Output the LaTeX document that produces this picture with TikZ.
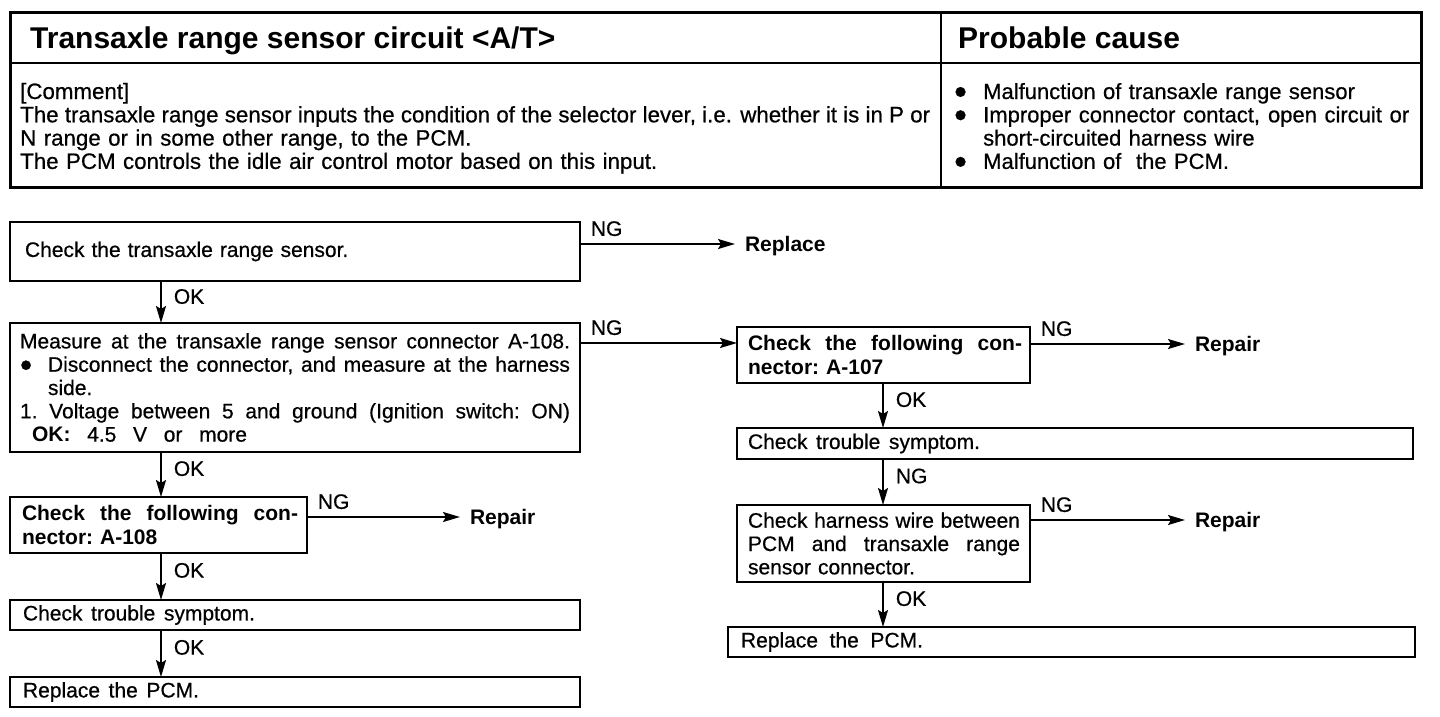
\documentclass[tikz,border=0pt]{standalone}
\usepackage{fontspec}
\setmainfont{Liberation Sans}[UprightFeatures={FakeBold=0.6}]
\usetikzlibrary{arrows.meta}

\newcommand{\bodyfont}{\fontsize{21}{23.3}\selectfont\frenchspacing}
\newcommand{\blt}{\smash{\raisebox{-5pt}{\scalebox{1.65}{\textbullet}}}}
\newcommand{\spread}[2]{\makebox[#1][s]{\spaceskip=0pt\xspaceskip=0pt #2}}

\tikzset{
  box/.style={draw, line width=2.2pt, rectangle, anchor=north west, outer sep=0pt,
    inner ysep=0pt, align=left, font=\bodyfont},
  boldbox/.style={box, font=\bfseries\bodyfont},
  flow/.style={line width=1.8pt, -{Stealth[length=17pt,width=10pt,inset=3pt]}},
  act/.style={anchor=west, outer sep=0pt, inner xsep=10pt, text height=15.5pt, text depth=0pt,
    font=\bfseries\bodyfont},
  ng/.style={pos=0, anchor=south west, xshift=8pt, yshift=5pt, inner sep=2pt, font=\bodyfont},
  ok/.style={pos=0.37, anchor=west, xshift=9pt, inner sep=3pt, font=\bodyfont},
  head/.style={anchor=base west, inner sep=0pt, font=\bfseries\fontsize{30}{32}\selectfont},
  txt/.style={anchor=base west, inner sep=0pt, align=left},
}

\begin{document}
\begin{tikzpicture}[x=1pt,y=-1pt]
  \useasboundingbox (0,0) rectangle (1440,716);

  % table
  \draw[line width=3pt] (10,12) rectangle (1421,187);
  \draw[line width=2pt] (10,63) -- (1421,63);
  \draw[line width=2pt] (941,12) -- (941,187);
  \node[head] (title) at (30,48) {Transaxle range sensor circuit <A/T>};
  \node[head] (cause) at (958,48) {Probable cause};
  \node[txt, text width=910pt, font=\fontsize{22.3}{23.3}\selectfont] (comment) at (20,99) {[Comment]\\
    \spread{910pt}{The transaxle range sensor inputs the condition of the selector lever, i.e. whether it is in P or}\\
    N range or in some other range, to the PCM.\\
    The PCM controls the idle air control motor based on this input.};
  \node[txt, text width=455pt, font=\fontsize{22}{23.3}\selectfont] (causes) at (954,99) {\makebox[29pt][l]{\blt}Malfunction of transaxle range sensor\\
    \makebox[29pt][l]{\blt}\spread{426pt}{Improper connector contact, open circuit or}\\
    \hspace*{29pt}short-circuited harness wire\\
    \makebox[29pt][l]{\blt}Malfunction of \ the PCM.};

  % left column
  \node[box, minimum width=570pt, minimum height=59pt, inner xsep=15pt, text width=540pt] (b1) at (10,222)
    {Check the transaxle range sensor.};
  \node[box, minimum width=570pt, minimum height=129pt, inner xsep=10pt, text width=550pt] (b2) at (10,323)
    {\spread{550pt}{Measure at the transaxle range sensor connector A-108.}\\
     \makebox[28pt][l]{\blt}\spread{522pt}{Disconnect the connector, and measure at the harness}\\
     \hspace*{28pt}side.\\
     \spread{550pt}{1. Voltage between 5 and ground (Ignition switch: ON)}\\
     \hspace*{12pt}\spread{215pt}{\textbf{OK:} 4.5 V or more}};
  \node[boldbox, minimum width=297pt, minimum height=56pt, inner xsep=12pt, text width=273pt] (b4) at (10,497)
    {\spread{276pt}{Check the following con-}\\nector: A-108};
  \node[box, minimum width=570pt, minimum height=30pt, inner xsep=13pt, text width=544pt] (b5) at (10,600)
    {\spread{232pt}{Check trouble symptom.}};
  \node[box, minimum width=570pt, minimum height=30pt, inner xsep=13pt, text width=544pt] (b6) at (10,677)
    {\spread{176pt}{Replace the PCM.}};

  % right column
  \node[boldbox, minimum width=293pt, minimum height=56pt, inner xsep=11pt, text width=271pt] (b7) at (737,327)
    {\spread{274pt}{Check the following con-}\\nector: A-107};
  \node[box, minimum width=676pt, minimum height=31pt, inner xsep=11pt, text width=654pt] (b8) at (737,428)
    {\spread{232pt}{Check trouble symptom.}};
  \node[box, minimum width=293pt, minimum height=77pt, inner xsep=11pt, text width=271pt] (b9) at (737,505)
    {\spread{272pt}{Check harness wire between}\\
     \spread{272pt}{PCM and transaxle range}\\
     sensor connector.};
  \node[box, minimum width=687pt, minimum height=30pt, inner xsep=13pt, text width=661pt] (b10) at (728,627)
    {\spread{182pt}{Replace the PCM.}};

  \node[act] (rep1) at (735,244) {Replace};
  \node[act] (rep2) at (1185,344) {Repair};
  \node[act] (rep3) at (460,517) {Repair};
  \node[act] (rep4) at (1185,520) {Repair};

  \coordinate (lx) at (161,0);
  \coordinate (rx) at (883,0);
  \coordinate (in7) at ([yshift=-16pt]b7.north west);

  \foreach \a/\b/\t in {b1/b2/OK,b2/b4/OK,b4/b5/OK,b5/b6/OK}
    \draw[flow] (\a.south -| lx) -- node[ok] {\t} (\b.north -| lx);
  \foreach \a/\b/\t in {b7/b8/OK,b8/b9/NG,b9/b10/OK}
    \draw[flow] (\a.south -| rx) -- node[ok] {\t} (\b.north -| rx);
  \foreach \a/\b in {b1/rep1,b4/rep3,b7/rep2,b9/rep4}
    \draw[flow] (\b.west -| \a.east) -- node[ng] {NG} (\b.west);
  \draw[flow] (b2.east |- in7) -- node[ng] {NG} (in7);
\end{tikzpicture}
\end{document}
